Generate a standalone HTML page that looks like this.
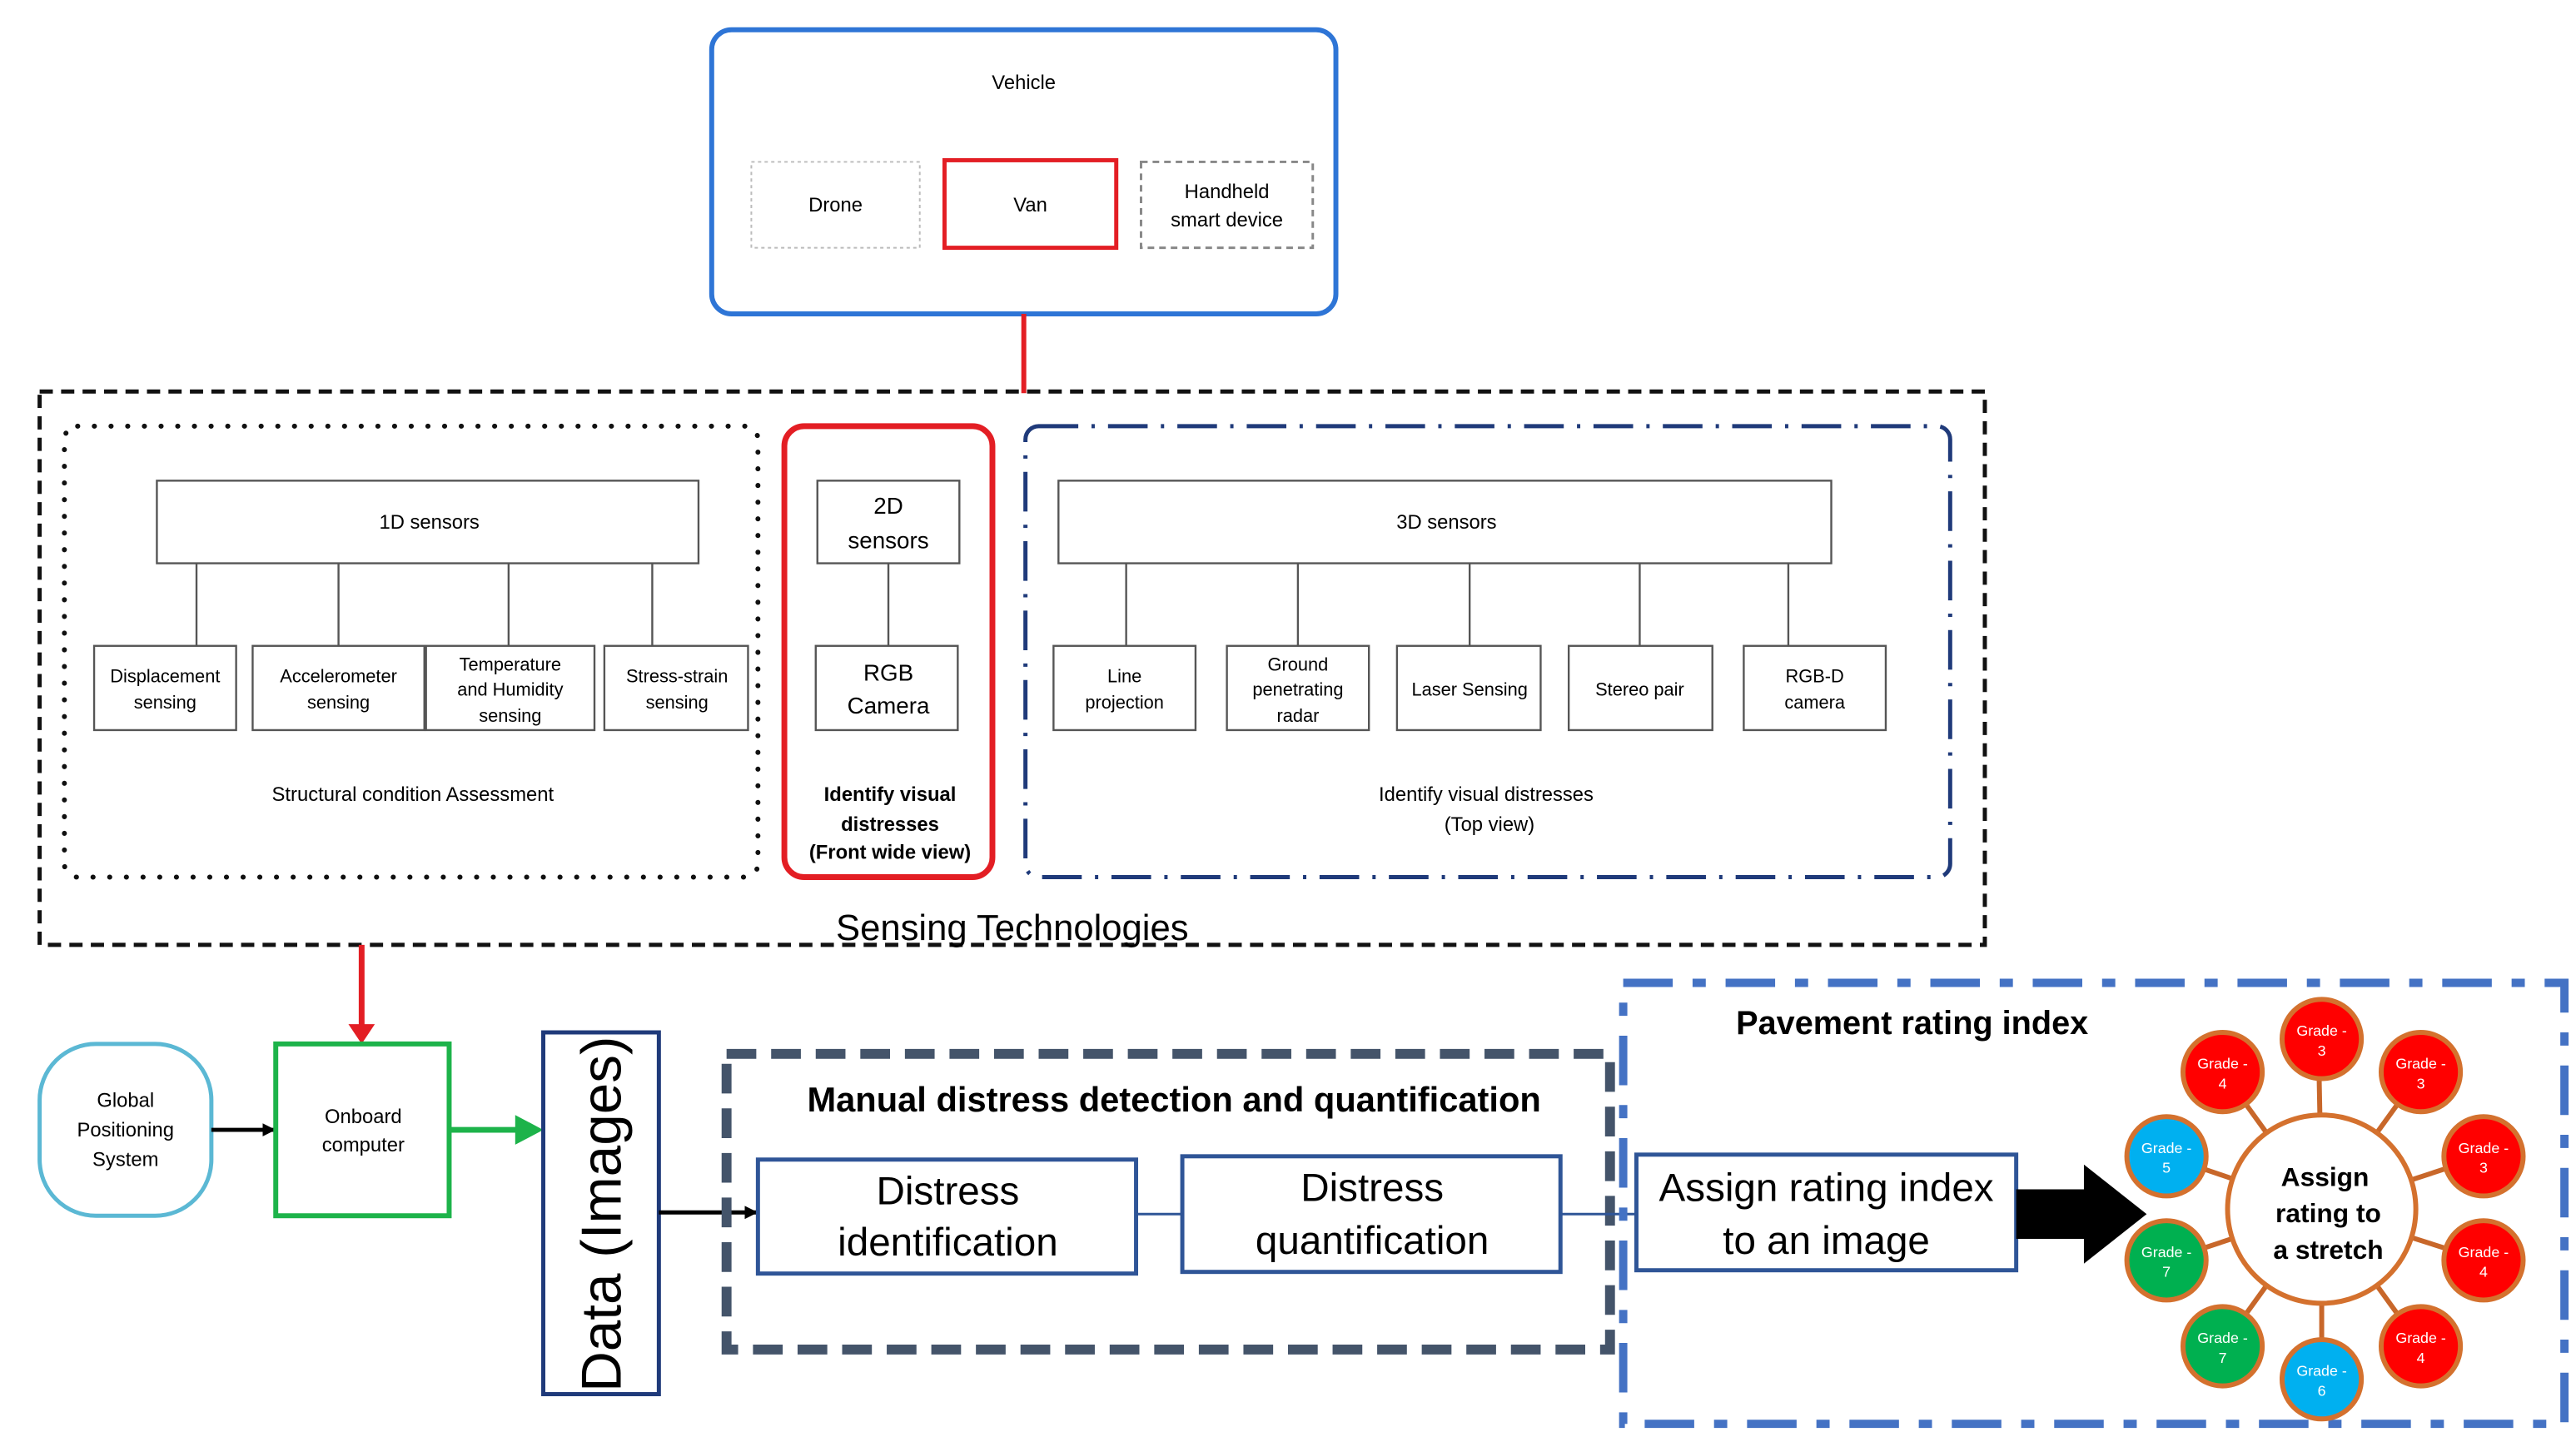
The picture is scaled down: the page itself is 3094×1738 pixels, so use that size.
<!DOCTYPE html>
<html><head><meta charset="utf-8"><style>html,body{margin:0;padding:0;background:#fff}svg{display:block}</style></head>
<body>
<svg width="3094" height="1738" viewBox="0 0 1560 876" preserveAspectRatio="none" xmlns="http://www.w3.org/2000/svg" font-family="Liberation Sans, sans-serif">
<defs>
<marker id="ah" markerWidth="8" markerHeight="8" refX="7" refY="4" orient="auto" markerUnits="userSpaceOnUse"><path d="M0,0 L8,4 L0,8z" fill="#000"/></marker>
</defs>
<rect width="1560" height="876" fill="#fff"/>
<!-- Vehicle -->
<rect x="431" y="18" width="378" height="172" rx="12" fill="none" stroke="#2e75d6" stroke-width="3"/>
<text x="620" y="54" font-size="12" text-anchor="middle">Vehicle</text>
<rect x="455" y="98" width="102" height="52" fill="none" stroke="#bbb" stroke-width="1" stroke-dasharray="2,2"/>
<text x="506" y="128" font-size="12" text-anchor="middle">Drone</text>
<rect x="572" y="97" width="104" height="53" fill="none" stroke="#e31e24" stroke-width="2.5"/>
<text x="624" y="128" font-size="12" text-anchor="middle">Van</text>
<rect x="691" y="98" width="104" height="52" fill="none" stroke="#888" stroke-width="1.5" stroke-dasharray="4,3"/>
<text x="743" y="120" font-size="12" text-anchor="middle">Handheld</text>
<text x="743" y="137" font-size="12" text-anchor="middle">smart device</text>
<line x1="620" y1="190" x2="620" y2="238" stroke="#e31e24" stroke-width="3"/>
<!-- Sensing technologies -->
<rect x="24" y="237" width="1178" height="335" fill="none" stroke="#111" stroke-width="2.5" stroke-dasharray="8,5"/>
<rect x="39" y="258" width="420" height="273" rx="8" fill="none" stroke="#111" stroke-width="3" stroke-dasharray="0.1,10" stroke-linecap="round"/>
<g stroke="#555" stroke-width="1.2" fill="#fff">
<line x1="119" y1="341" x2="119" y2="391"/><line x1="205" y1="341" x2="205" y2="391"/><line x1="308" y1="341" x2="308" y2="391"/><line x1="395" y1="341" x2="395" y2="391"/>
<rect x="95" y="291" width="328" height="50"/>
<rect x="57" y="391" width="86" height="51"/><rect x="153" y="391" width="104" height="51"/><rect x="258" y="391" width="102" height="51"/><rect x="366" y="391" width="87" height="51"/>
</g>
<g font-size="11" text-anchor="middle" fill="#000">
<text x="260" y="320" font-size="12">1D sensors</text>
<text x="100" y="413">Displacement</text><text x="100" y="429">sensing</text>
<text x="205" y="413">Accelerometer</text><text x="205" y="429">sensing</text>
<text x="309" y="406">Temperature</text><text x="309" y="421">and Humidity</text><text x="309" y="437">sensing</text>
<text x="410" y="413">Stress-strain</text><text x="410" y="429">sensing</text>
<text x="250" y="485" font-size="12">Structural condition Assessment</text>
</g>
<rect x="475" y="258" width="126" height="273" rx="12" fill="none" stroke="#e31e24" stroke-width="3.5"/>
<g stroke="#555" stroke-width="1.2" fill="#fff">
<line x1="538" y1="341" x2="538" y2="391"/>
<rect x="495" y="291" width="86" height="50"/><rect x="494" y="391" width="86" height="51"/>
</g>
<g text-anchor="middle">
<text x="538" y="311" font-size="14">2D</text><text x="538" y="332" font-size="14">sensors</text>
<text x="538" y="412" font-size="14">RGB</text><text x="538" y="432" font-size="14">Camera</text>
<text x="539" y="485" font-size="12" font-weight="bold">Identify visual</text>
<text x="539" y="503" font-size="12" font-weight="bold">distresses</text>
<text x="539" y="520" font-size="12" font-weight="bold">(Front wide view)</text>
</g>
<rect x="621" y="258" width="560" height="273" rx="8" fill="none" stroke="#1f3a7a" stroke-width="2.5" stroke-dasharray="24,8,2,8"/>
<g stroke="#555" stroke-width="1.2" fill="#fff">
<line x1="682" y1="341" x2="682" y2="391"/><line x1="786" y1="341" x2="786" y2="391"/><line x1="890" y1="341" x2="890" y2="391"/><line x1="993" y1="341" x2="993" y2="391"/><line x1="1083" y1="341" x2="1083" y2="391"/>
<rect x="641" y="291" width="468" height="50"/>
<rect x="638" y="391" width="86" height="51"/><rect x="743" y="391" width="86" height="51"/><rect x="846" y="391" width="87" height="51"/><rect x="950" y="391" width="87" height="51"/><rect x="1056" y="391" width="86" height="51"/>
</g>
<g font-size="11" text-anchor="middle">
<text x="876" y="320" font-size="12">3D sensors</text>
<text x="681" y="413">Line</text><text x="681" y="429">projection</text>
<text x="786" y="406">Ground</text><text x="786" y="421">penetrating</text><text x="786" y="437">radar</text>
<text x="890" y="421">Laser Sensing</text>
<text x="993" y="421">Stereo pair</text>
<text x="1099" y="413">RGB-D</text><text x="1099" y="429">camera</text>
<text x="900" y="485" font-size="12">Identify visual distresses</text>
<text x="902" y="503" font-size="12">(Top view)</text>
</g>
<text x="613" y="569" font-size="22" text-anchor="middle">Sensing Technologies</text>
<!-- red arrow -->
<line x1="219" y1="572" x2="219" y2="622" stroke="#e31e24" stroke-width="3.5"/>
<path d="M211,620 L227,620 L219,632z" fill="#e31e24"/>
<!-- GPS -->
<rect x="24" y="632" width="104" height="104" rx="34" fill="none" stroke="#5bb8d4" stroke-width="2.5"/>
<g font-size="12" text-anchor="middle"><text x="76" y="670">Global</text><text x="76" y="688">Positioning</text><text x="76" y="706">System</text></g>
<line x1="128" y1="684" x2="166" y2="684" stroke="#000" stroke-width="2.5" marker-end="url(#ah)"/>
<rect x="167" y="632" width="105" height="104" fill="none" stroke="#1db34a" stroke-width="3"/>
<g font-size="12" text-anchor="middle"><text x="220" y="680">Onboard</text><text x="220" y="697">computer</text></g>
<line x1="272" y1="684" x2="315" y2="684" stroke="#1db34a" stroke-width="3.5"/>
<path d="M312,675 L329,684 L312,693z" fill="#1db34a"/>
<rect x="329" y="625" width="70" height="219" fill="none" stroke="#1f3a7a" stroke-width="2.5"/>
<text transform="translate(376,735) rotate(-90)" font-size="34" text-anchor="middle">Data (Images)</text>
<line x1="399" y1="734" x2="458" y2="734" stroke="#000" stroke-width="2.5" marker-end="url(#ah)"/>
<!-- manual -->
<rect x="440" y="638" width="535" height="179" fill="none" stroke="#44546a" stroke-width="6" stroke-dasharray="18,9"/>
<text x="711" y="673" font-size="21" font-weight="bold" text-anchor="middle">Manual distress detection and quantification</text>
<rect x="459" y="702" width="229" height="69" fill="none" stroke="#2f5597" stroke-width="2.5"/>
<text x="574" y="729" font-size="24" text-anchor="middle">Distress</text><text x="574" y="760" font-size="24" text-anchor="middle">identification</text>
<rect x="716" y="700" width="229" height="70" fill="none" stroke="#2f5597" stroke-width="2.5"/>
<text x="831" y="727" font-size="24" text-anchor="middle">Distress</text><text x="831" y="759" font-size="24" text-anchor="middle">quantification</text>
<line x1="688" y1="735" x2="716" y2="735" stroke="#2f5597" stroke-width="1.5"/>
<line x1="945" y1="735" x2="991" y2="735" stroke="#2f5597" stroke-width="1.5"/>
<!-- pavement -->
<rect x="983" y="595" width="570" height="267" fill="none" stroke="#4472c4" stroke-width="5" stroke-dasharray="30,12,8,12"/>
<text x="1158" y="626" font-size="20" font-weight="bold" text-anchor="middle">Pavement rating index</text>
<rect x="991" y="699" width="230" height="70" fill="none" stroke="#2f5597" stroke-width="2.5"/>
<text x="1106" y="727" font-size="24" text-anchor="middle">Assign rating index</text>
<text x="1106" y="759" font-size="24" text-anchor="middle">to an image</text>
<path d="M1221,720 L1262,720 L1262,705 L1300,735 L1262,765 L1262,750 L1221,750z" fill="#000"/>
<g stroke="#c8672a" stroke-width="3">
<line x1="1406" y1="732" x2="1404" y2="629"/><line x1="1406" y1="732" x2="1346" y2="649"/><line x1="1406" y1="732" x2="1466" y2="649"/>
<line x1="1406" y1="732" x2="1504" y2="700"/><line x1="1406" y1="732" x2="1504" y2="763"/><line x1="1406" y1="732" x2="1312" y2="700"/><line x1="1406" y1="732" x2="1312" y2="763"/>
<line x1="1406" y1="732" x2="1346" y2="815"/><line x1="1406" y1="732" x2="1466" y2="815"/><line x1="1406" y1="732" x2="1406" y2="835"/>
</g>
<g stroke="#d4712e" stroke-width="3">
<circle cx="1406" cy="732" r="57" fill="#fff"/>
<circle cx="1406" cy="629" r="24" fill="#ff0000"/>
<circle cx="1346" cy="649" r="24" fill="#ff0000"/>
<circle cx="1466" cy="649" r="24" fill="#ff0000"/>
<circle cx="1504" cy="700" r="24" fill="#ff0000"/>
<circle cx="1504" cy="763" r="24" fill="#ff0000"/>
<circle cx="1466" cy="815" r="24" fill="#ff0000"/>
<circle cx="1406" cy="835" r="24" fill="#00b0f0"/>
<circle cx="1346" cy="815" r="24" fill="#00b050"/>
<circle cx="1312" cy="763" r="24" fill="#00b050"/>
<circle cx="1312" cy="700" r="24" fill="#00b0f0"/>
</g>
<g font-size="9" fill="#fff" text-anchor="middle">
<text x="1406" y="627">Grade -</text><text x="1406" y="639">3</text>
<text x="1346" y="647">Grade -</text><text x="1346" y="659">4</text>
<text x="1466" y="647">Grade -</text><text x="1466" y="659">3</text>
<text x="1504" y="698">Grade -</text><text x="1504" y="710">3</text>
<text x="1504" y="761">Grade -</text><text x="1504" y="773">4</text>
<text x="1466" y="813">Grade -</text><text x="1466" y="825">4</text>
<text x="1406" y="833">Grade -</text><text x="1406" y="845">6</text>
<text x="1346" y="813">Grade -</text><text x="1346" y="825">7</text>
<text x="1312" y="761">Grade -</text><text x="1312" y="773">7</text>
<text x="1312" y="698">Grade -</text><text x="1312" y="710">5</text>
</g>
<g font-size="16" font-weight="bold" text-anchor="middle">
<text x="1408" y="718">Assign</text><text x="1410" y="740">rating to</text><text x="1410" y="762">a stretch</text>
</g>
</svg>
</body></html>
